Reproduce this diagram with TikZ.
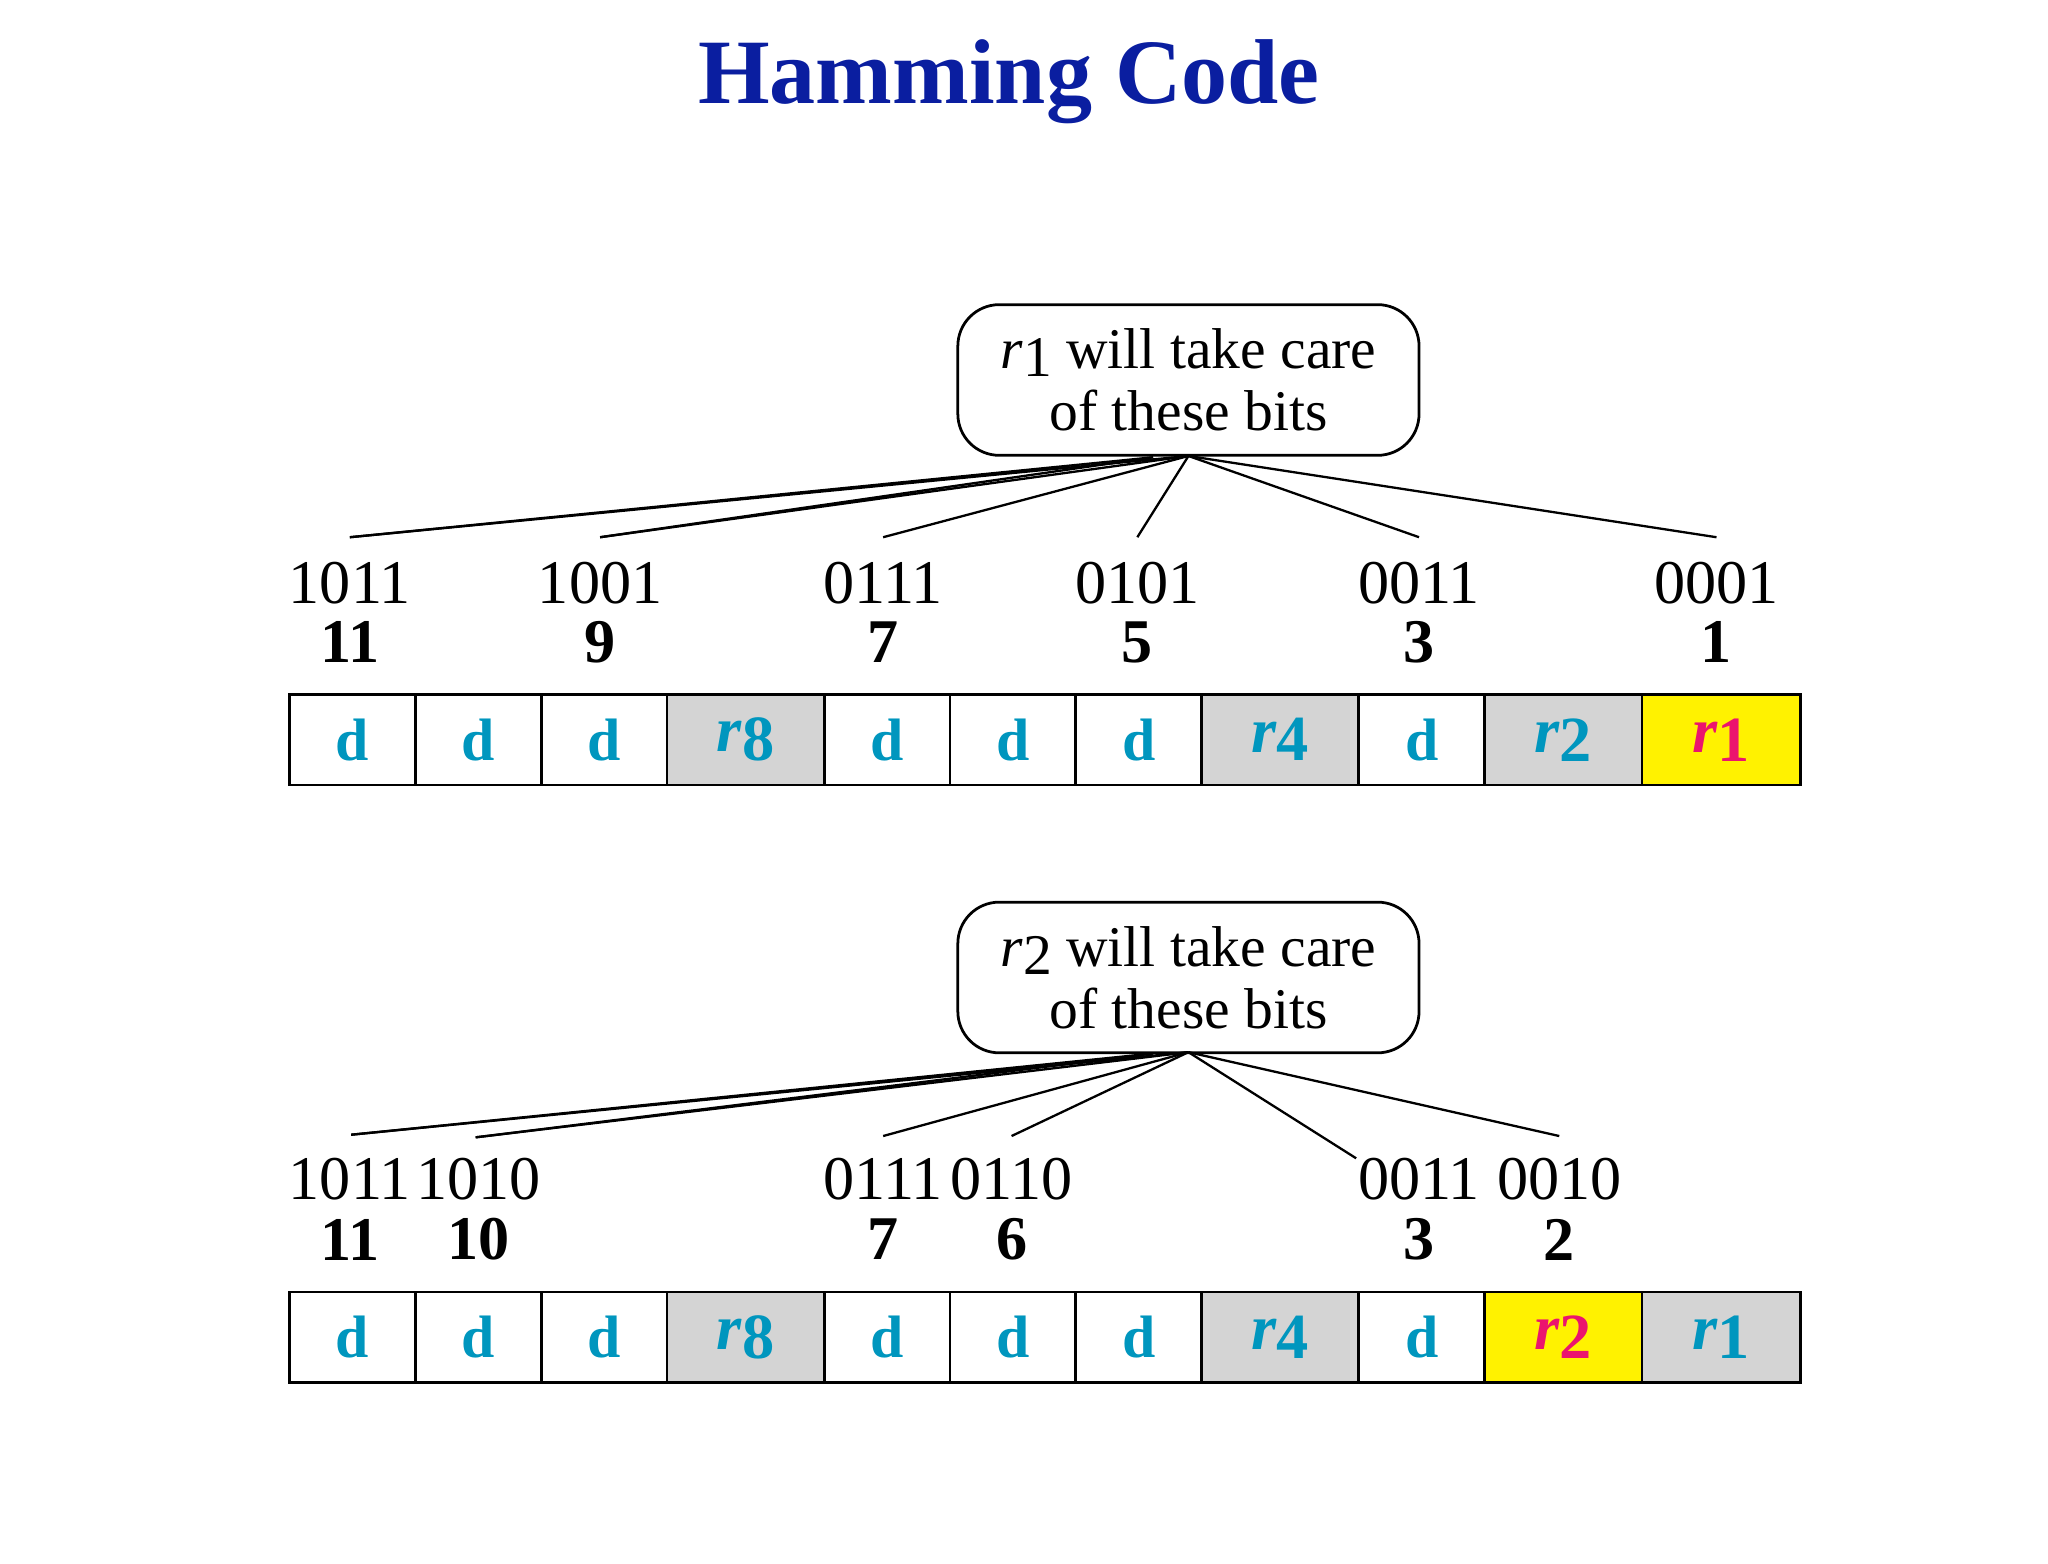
\documentclass[tikz,border=0pt]{standalone}
\usepackage{fontspec}
\setmainfont{Liberation Serif}
\begin{document}
\begin{tikzpicture}[x=0.02cm,y=-0.02cm,
 cell/.style={draw,line width=1.2pt,minimum height=69*0.02cm,inner sep=0pt,anchor=north west},
 dd/.style={text=dcol,font=\fontsize{26}{28}\selectfont\bfseries},
 rr/.style={font=\fontsize{28}{30}\selectfont\bfseries\itshape},
 bin/.style={font=\fontsize{27}{28}\selectfont},
 num/.style={font=\fontsize{27}{28}\selectfont\bfseries},
 care/.style={draw,line width=1.2pt,rounded corners=18pt,minimum width=352*0.02cm,minimum height=115*0.02cm,align=center,font=\fontsize{25}{27}\selectfont,inner sep=0pt},
 ln/.style={line width=1pt}]
\definecolor{dcol}{RGB}{0,150,190}
\definecolor{gcol}{RGB}{212,212,212}
\definecolor{mcol}{RGB}{235,20,110}
\definecolor{tcol}{RGB}{10,30,160}
\useasboundingbox (0,0) rectangle (1563,1193);
\node[text=tcol,font=\fontsize{40}{44}\selectfont\bfseries] (title) at (770,62) {Hamming Code};
% boxes
\node[care] (b1) at (907,290) {\textit{r}\raisebox{-0.3ex}{1} will take care\\ of these bits};
\node[care] (b2) at (907,746) {\textit{r}\raisebox{-0.3ex}{2} will take care\\ of these bits};
% cells
\foreach \row/\y in {1/529,2/985}{
 \foreach \i/\xa/\xb/\f in {1/220/316/white,2/316/412/white,3/412/508/white,4/508/628/gcol,5/628/724/white,6/724/820/white,7/820/916/white,8/916/1036/gcol,9/1036/1132/white,10/1132/1252/gcol,11/1252/1373/gcol}{
  \node[cell,fill=\f,minimum width={(\xb-\xa)*0.02cm}] (c\row-\i) at (\xa,\y) {};
 }
}
\node[fill=yellow,cell,minimum width=121*0.02cm] (y1) at (1252,529) {};
\node[fill=yellow,cell,minimum width=120*0.02cm] (y2) at (1132,985) {};
\foreach \row in {1,2}{
 \foreach \i in {1,2,3,5,6,7,9}{\node[dd] at (c\row-\i) {d};}
 \node[rr,text=dcol] at (c\row-4) {r\raisebox{-0.3ex}{\upshape 8}};
 \node[rr,text=dcol] at (c\row-8) {r\raisebox{-0.3ex}{\upshape 4}};
}
\node[rr,text=dcol] at (c1-10) {r\raisebox{-0.3ex}{\upshape 2}};
\node[rr,text=mcol] at (y1) {r\raisebox{-0.3ex}{\upshape 1}};
\node[rr,text=mcol] at (y2) {r\raisebox{-0.3ex}{\upshape 2}};
\node[rr,text=dcol] at (c2-11) {r\raisebox{-0.3ex}{\upshape 1}};
% labels row 1
\foreach \n/\x/\b/\d in {a/267/1011/11,b/458/1001/9,c/674/0111/7,e/868/0101/5,f/1083/0011/3,g/1310/0001/1}{
 \node[bin] (t1\n) at (\x,445) {\b};
 \node[num] at (\x,490) {\d};
 \coordinate (e1\n) at (\x,410);
}
\coordinate (a1) at (907,348);
\coordinate (a1b) at (880,349);
\draw[ln] (a1b) -- (e1a); \draw[ln] (a1b) -- (e1b);
\draw[ln] (a1) -- (e1a); \draw[ln] (a1) -- (e1b);
\draw[ln] (a1) -- (e1c); \draw[ln] (a1) -- (e1e);
\draw[ln] (a1) -- (e1f); \draw[ln] (a1) -- (e1g);
% labels row 2
\foreach \n/\x/\b/\d in {a/267/1011/11,b/365/1010/10,c/674/0111/7,e/772/0110/6,f/1083/0011/3,g/1190/0010/2}{
 \node[bin] (t2\n) at (\x,900) {\b};
 \node[num] at (\x,946) {\d};
}
\coordinate (e2a) at (268,866);
\coordinate (e2b) at (363,868);
\coordinate (e2c) at (674,867);
\coordinate (e2e) at (772,867);
\coordinate (e2f) at (1035,884);
\coordinate (e2g) at (1190,867);
\coordinate (a2) at (907,803);
\coordinate (a2b) at (880,804);
\draw[ln] (a2b) -- (e2a); \draw[ln] (a2b) -- (e2b);
\draw[ln] (a2) -- (e2a); \draw[ln] (a2) -- (e2b);
\draw[ln] (a2) -- (e2c); \draw[ln] (a2) -- (e2e);
\draw[ln] (a2) -- (e2f); \draw[ln] (a2) -- (e2g);
\end{tikzpicture}
\end{document}
